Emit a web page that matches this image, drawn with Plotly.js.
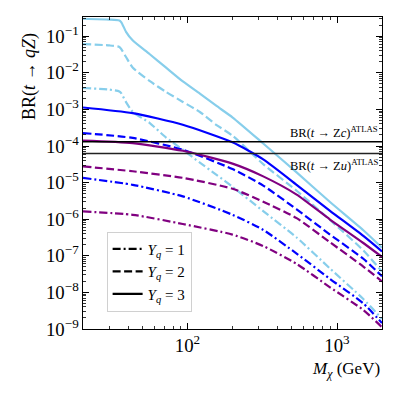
<!DOCTYPE html>
<html>
<head>
<meta charset="utf-8">
<script src="https://cdn.plot.ly/plotly-3.0.1.min.js"></script>
<style>
  body { margin: 0; background: #fff; }
  #plot { width: 399px; height: 399px; }
</style>
</head>
<body>
<div id="plot"></div>
<script>
// masses (GeV)
var mLight = [20, 30, 35, 36.1, 38.8, 43.1, 55.7, 71.9, 93.1, 121, 155.6, 200.6, 321, 537, 898, 1500, 2000];
var mSmooth = [20, 43, 93, 200, 321, 537, 898, 1500, 2000];

// light blue curves
var lightY3 = [0.30, 0.285, 0.27, 0.24, 0.132, 0.076, 0.0327, 0.0138, 5.8e-3, 2.7e-3, 1.26e-3, 6.0e-4, 1.17e-4, 1.9e-5, 2.95e-6, 5.0e-7, 1.66e-7];
var lightY2 = [0.061, 0.056, 0.051, 0.044, 0.027, 0.0138, 6.0e-3, 3.0e-3, 1.6e-3, 8.5e-4, 3.8e-4, 1.9e-4, 3.2e-5, 6.0e-6, 9.5e-7, 1.4e-7, 3.7e-8];
var lightY1 = [3.85e-3, 3.47e-3, 3.1e-3, 2.75e-3, 1.58e-3, 8.5e-4, 4.3e-4, 1.7e-4, 7.9e-5, 3.5e-5, 1.66e-5, 7.6e-6, 1.66e-6, 3.16e-7, 4.5e-8, 6.6e-9, 1.9e-9];

// blue curves
var blueY3 = [1.13e-3, 7.9e-4, 3.8e-4, 1.26e-4, 4.3e-5, 8.7e-6, 1.7e-6, 3.5e-7, 1.32e-7];
var blueY2 = [2.26e-4, 1.66e-4, 7.9e-5, 2.35e-5, 8.3e-6, 1.86e-6, 3.8e-7, 8.3e-8, 2.75e-8];
var blueY1 = [1.34e-5, 8.7e-6, 4.2e-6, 1.32e-6, 5.1e-7, 1.15e-7, 2.34e-8, 5.0e-9, 1.45e-9];

// purple curves
var purpY3 = [1.4e-4, 1.2e-4, 7.4e-5, 3.3e-5, 1.48e-5, 4.7e-6, 9.8e-7, 2.24e-7, 9.3e-8];
var purpY2 = [2.77e-5, 2.04e-5, 1.35e-5, 6.8e-6, 3.0e-6, 1.07e-6, 2.34e-7, 5.1e-8, 2.0e-8];
var purpY1 = [1.63e-6, 1.32e-6, 7.4e-7, 3.8e-7, 1.85e-7, 6.0e-8, 1.38e-8, 3.3e-9, 1.12e-9];

// ATLAS limits
var atlasLimits = [1.3e-4, 6.2e-5];
var xSpan = [20, 2000];

var legendNames = ['<i>Y<sub>q</sub></i> = 1', '<i>Y<sub>q</sub></i> = 2', '<i>Y<sub>q</sub></i> = 3'];

var SKY = '#87CEEB', BLUE = '#0000FF', PURPLE = '#800080';
var DASHDOT = '8px,3px,2px,3px', DASHED = '8px,3.5px';
var LW = 2.2;

function curve(x, y, color, dash) {
  return {
    x: x, y: y, type: 'scatter', mode: 'lines',
    line: {color: color, width: LW, dash: dash, shape: 'spline', smoothing: 0.6},
    showlegend: false, hoverinfo: 'skip'
  };
}

var data = [];
data.push(curve(mLight, lightY3, SKY, 'solid'));
data.push(curve(mLight, lightY2, SKY, DASHED));
data.push(curve(mLight, lightY1, SKY, DASHDOT));
data.push(curve(mSmooth, blueY3, BLUE, 'solid'));
data.push(curve(mSmooth, blueY2, BLUE, DASHED));
data.push(curve(mSmooth, blueY1, BLUE, DASHDOT));
data.push(curve(mSmooth, purpY3, PURPLE, 'solid'));
data.push(curve(mSmooth, purpY2, PURPLE, DASHED));
data.push(curve(mSmooth, purpY1, PURPLE, DASHDOT));

atlasLimits.forEach(function (v, i) {
  data.push({
    x: xSpan, y: [v, v], type: 'scatter', mode: 'lines',
    line: {color: i == 0 ? '#000' : '#222', width: 1.5},
    showlegend: false, hoverinfo: 'skip'
  });
});

// legend-only entries
[DASHDOT, DASHED, 'solid'].forEach(function (d, i) {
  data.push({
    x: [null], y: [null], type: 'scatter', mode: 'lines',
    name: legendNames[i],
    line: {color: '#000', width: LW, dash: d}
  });
});

var serif = '"Liberation Serif", "DejaVu Serif", serif';

var axisCommon = {
  type: 'log',
  dtick: 1,
  exponentformat: 'power',
  showgrid: false,
  zeroline: false,
  showline: true,
  linecolor: '#000',
  linewidth: 1.3,
  mirror: 'allticks',
  ticks: 'inside',
  ticklen: 6,
  tickwidth: 1,
  tickcolor: '#000',
  tickfont: {family: serif, size: 15, color: '#000'},
  minor: {ticks: 'inside', ticklen: 3, tickwidth: 0.8, tickcolor: '#000', dtick: 'D1', showgrid: false}
};

var xaxis = Object.assign({}, axisCommon, {
  range: [Math.log10(20), Math.log10(2000)]
});
var yaxis = Object.assign({}, axisCommon, {
  range: [-9, -0.475]
});

var layout = {
  width: 399, height: 399,
  margin: {l: 83, r: 17, t: 17, b: 70},
  paper_bgcolor: '#fff', plot_bgcolor: '#fff',
  xaxis: xaxis, yaxis: yaxis,
  showlegend: true,
  legend: {
    x: 0.079, y: 0.312, xanchor: 'left', yanchor: 'top',
    bgcolor: '#fff', bordercolor: '#d0d0d0', borderwidth: 1,
    font: {family: serif, size: 15, color: '#000'},
    itemwidth: 30, tracegroupgap: 0
  },
  annotations: [
    {xref: 'paper', yref: 'paper', x: 1, y: -0.13, xanchor: 'right', yanchor: 'middle',
     text: '<i>M<sub>χ</sub></i> (GeV)', showarrow: false, font: {family: serif, size: 17, color: '#000'}},
    {xref: 'paper', yref: 'paper', x: -0.179, y: 0.955, xanchor: 'center', yanchor: 'top', textangle: -90,
     text: 'BR(<i>t</i> → <i>qZ</i>)', showarrow: false, font: {family: serif, size: 18, color: '#000'}},
    {xref: 'paper', yref: 'y', x: 1, y: Math.log10(atlasLimits[0]), xanchor: 'right', yanchor: 'bottom', yshift: 0, xshift: -2,
     text: 'BR(<i>t</i> → Z<i>c</i>)<sup>ATLAS</sup>', showarrow: false, font: {family: serif, size: 12.5, color: '#000'}},
    {xref: 'paper', yref: 'y', x: 1, y: Math.log10(atlasLimits[1]), xanchor: 'right', yanchor: 'top', yshift: -1, xshift: -2,
     text: 'BR(<i>t</i> → Z<i>u</i>)<sup>ATLAS</sup>', showarrow: false, font: {family: serif, size: 12.5, color: '#000'}}
  ]
};

Plotly.newPlot('plot', data, layout, {displayModeBar: false, staticPlot: true});
</script>
</body>
</html>
